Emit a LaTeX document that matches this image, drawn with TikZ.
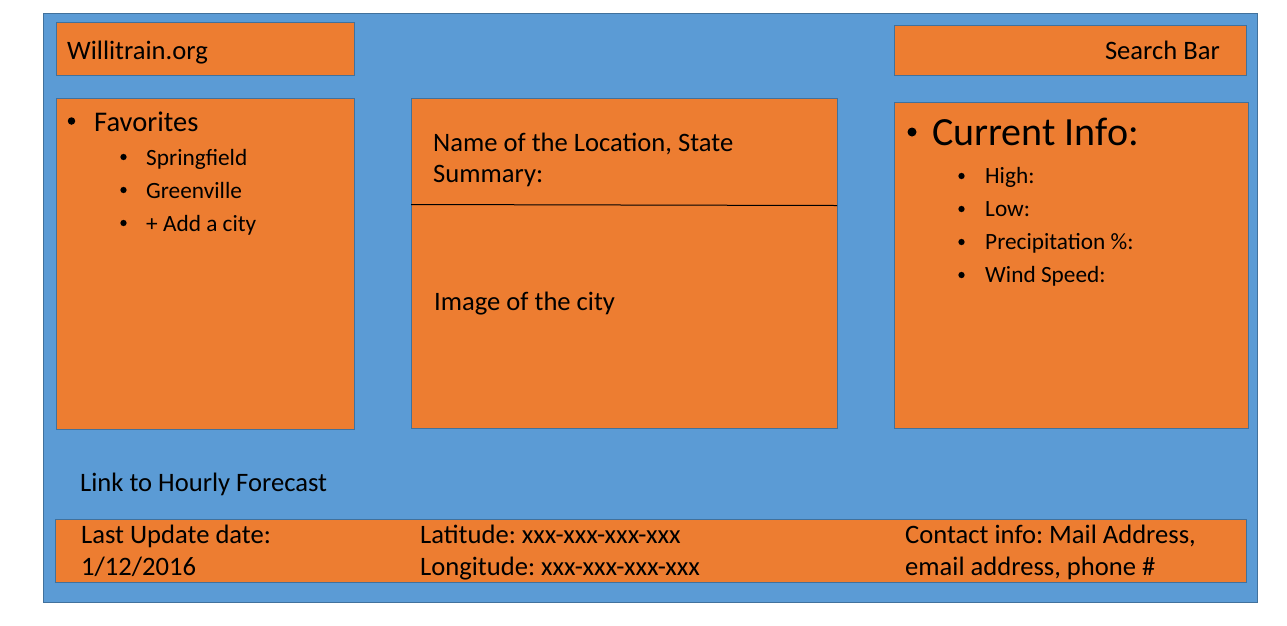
\documentclass[tikz,border=0pt]{standalone}
\usepackage{fontspec}
\setmainfont{Carlito}
\definecolor{bgblue}{HTML}{5B9BD5}
\definecolor{boxorange}{HTML}{ED7D31}
\definecolor{edgeblue}{HTML}{41719C}
\tikzset{
  panel/.style={draw=edgeblue, fill=boxorange, line width=0.9pt},
  txt/.style={anchor=base west, inner sep=0pt, text=black, execute at begin node=\frenchspacing},
  main/.style={txt, font=\fontsize{26.6}{30}\selectfont},
  sub/.style={txt, font=\fontsize{23.3}{27}\selectfont},
  big/.style={txt, font=\fontsize{40}{45}\selectfont},
  fav/.style={txt, font=\fontsize{28.5}{32}\selectfont},
  dot/.style={circle, fill=black, draw=none, inner sep=0pt, minimum size=#1},
}
\begin{document}
\begin{tikzpicture}[x=1pt,y=-1pt]
\useasboundingbox (0,0) rectangle (1287,625);
\fill[white] (0,0) rectangle (1287,625);
\draw[draw=edgeblue, fill=bgblue, line width=0.9pt] (43,13) rectangle (1257,602);
% boxes
\draw[panel] (56,22) rectangle (354,75);
\draw[panel] (894,25) rectangle (1246,75);
\draw[panel] (56,98) rectangle (354,429);
\draw[panel] (411,98) rectangle (837,428);
\draw[panel] (894,102) rectangle (1248,428);
\draw[panel] (55,519) rectangle (1246,582);
\coordinate (divl) at (411,204.5);
\coordinate (divr) at (837,205.5);
\draw[black, line width=1pt] (divl) -- (divr);
% header
\node[main] (logo) at (67,59) {Willitrain.org};
\node[main, anchor=base east] (search) at (1220,59) {Search Bar};
% favorites
\node[dot=7.5pt] (b0) at (71.5,121) {};
\node[fav] (fav) at (94,131) {Favorites};
\node[dot=6.3pt] (b1) at (123.5,157) {};
\node[sub] (c1) at (146,165) {Springfield};
\node[dot=6.3pt] (b2) at (123.5,190) {};
\node[sub] (c2) at (146,198) {Greenville};
\node[dot=6.3pt] (b3) at (123.5,223) {};
\node[sub] (c3) at (146,231) {+ Add a city};
% middle
\node[main] (loc) at (433,151) {Name of the Location, State};
\node[main] (sum) at (433,182) {Summary:};
\node[main] (img) at (434,310) {Image of the city};
% current info
\node[dot=9pt] (b4) at (912,132) {};
\node[big] (cur) at (932,145) {Current Info:};
\node[dot=6.3pt] (b5) at (961.5,176) {};
\node[sub] (hi) at (985,183) {High:};
\node[dot=6.3pt] (b6) at (961.5,209) {};
\node[sub] (lo) at (985,216) {Low:};
\node[dot=6.3pt] (b7) at (961.5,242) {};
\node[sub] (pr) at (985,249) {Precipitation \%:};
\node[dot=6.3pt] (b8) at (961.5,275) {};
\node[sub] (ws) at (985,282) {Wind Speed:};
% link
\node[main] (link) at (80,491) {Link to Hourly Forecast};
% footer
\node[main] (upd1) at (81,543) {Last Update date:};
\node[main] (upd2) at (81,575) {1/12/2016};
\node[main] (lat) at (420,543) {Latitude: xxx-xxx-xxx-xxx};
\node[main] (lon) at (420,575) {Longitude: xxx-xxx-xxx-xxx};
\node[main] (con1) at (905,543) {Contact info: Mail Address,};
\node[main] (con2) at (905,575) {email address, phone \#};
\end{tikzpicture}
\end{document}
